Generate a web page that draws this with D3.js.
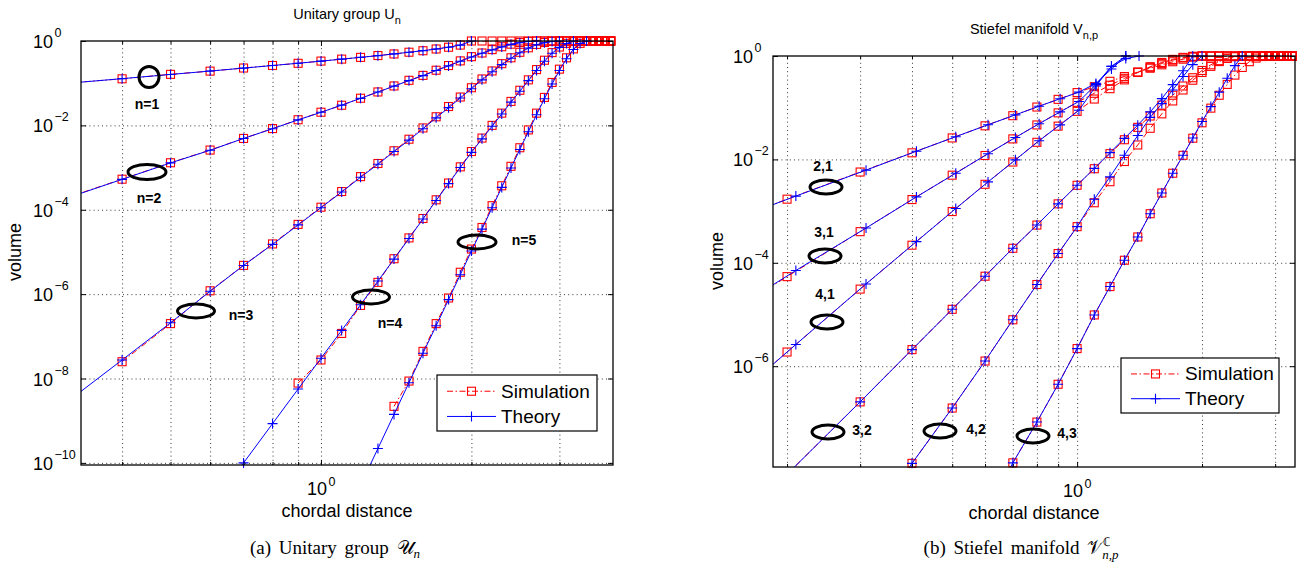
<!DOCTYPE html>
<html><head><meta charset="utf-8">
<script src="https://cdn.jsdelivr.net/npm/d3@7/dist/d3.min.js"></script>
<style>
html,body{margin:0;padding:0;background:#fff;}
svg{display:block;}
text{font-family:"Liberation Sans",Arial,Helvetica,sans-serif;fill:#000;}
.cap{font-family:"Liberation Serif","Times New Roman",serif;}
</style></head><body>
<svg id="chart" width="1302" height="570"></svg>
<script>
// ================= DATA: (a) Unitary group U_n =================
const xUnitary = [0.3,0.4,0.5,0.6,0.7,0.8,0.9,1.0,1.1,1.2,1.3,1.4,1.5,1.6,1.7,1.8,1.9,2.0,2.1,2.2,2.3,2.4,2.5,2.6,2.7,2.8,2.9,3.0,3.1,3.2,3.3,3.4,3.5,3.6,3.7,3.8];
const theoryN1 = [0.096,0.128,0.161,0.194,0.228,0.262,0.297,0.333,0.371,0.410,0.450,0.494,0.540,0.590,0.645,0.713,0.799,1.0,null,null,null,null,null,null,null,null,null,null,null,null,null,null,null,null,null,null];
const simN1    = [0.097,0.127,0.162,0.193,0.229,0.263,0.296,0.334,0.372,0.409,0.452,0.493,0.542,0.588,0.647,0.712,0.80,1,1,1,1,1,1,1,1,1,1,1,1,1,1,1,1,1,1,1];
const theoryN2 = [1.66e-4,5.25e-4,1.29e-3,2.57e-3,4.90e-3,8.32e-3,1.35e-2,2.04e-2,3.02e-2,4.37e-2,6.17e-2,8.51e-2,0.115,0.151,0.200,0.257,0.331,0.417,0.513,0.617,0.724,0.832,0.912,0.977,1.0,null,null,null,null,null,null,null,null,null,null,null];
const simN2    = [1.7e-4,5.3e-4,1.3e-3,2.6e-3,4.9e-3,8.4e-3,1.36e-2,2.05e-2,3.0e-2,4.4e-2,6.2e-2,8.6e-2,0.117,0.153,0.203,0.262,0.338,0.425,0.52,0.625,0.73,0.84,0.92,0.98,1,1,1,1,1,1,1,1,1,1,1,1];
const theoryN3 = [2.04e-9,2.75e-8,2.09e-7,1.17e-6,4.79e-6,1.51e-5,4.37e-5,1.12e-4,2.63e-4,5.89e-4,1.20e-3,2.40e-3,4.47e-3,8.32e-3,1.51e-2,2.63e-2,4.47e-2,7.41e-2,0.120,0.186,0.275,0.389,0.525,0.676,0.813,0.912,0.977,1.0,null,null,null,null,null,null,null,null];
const simN3    = [null,2.5e-8,2.0e-7,1.2e-6,4.8e-6,1.55e-5,4.5e-5,1.15e-4,2.7e-4,6.1e-4,1.25e-3,2.5e-3,4.7e-3,8.7e-3,1.6e-2,2.8e-2,4.7e-2,7.8e-2,0.126,0.195,0.29,0.40,0.54,0.69,0.83,0.92,0.98,1,1,1,1,1,1,1,1,1];
const theoryN4 = [null,null,null,8.51e-12,1.0e-10,8.51e-10,5.62e-9,3.02e-8,1.38e-7,5.62e-7,2.04e-6,6.76e-6,2.09e-5,6.03e-5,1.66e-4,4.17e-4,1.0e-3,2.29e-3,4.79e-3,9.55e-3,1.86e-2,3.55e-2,6.46e-2,0.115,0.200,0.331,0.513,0.708,0.871,1.0,null,null,null,null,null,null];
const simN4    = [null,null,null,null,null,null,7.8e-9,2.75e-8,1.17e-7,5.4e-7,1.9e-6,6.9e-6,2.15e-5,6.2e-5,1.72e-4,4.3e-4,1.04e-3,2.4e-3,5.0e-3,1.0e-2,1.95e-2,3.7e-2,6.8e-2,0.12,0.21,0.35,0.53,0.72,0.88,0.97,1,1,1,1,1,1];
const theoryN5 = [null,null,null,null,null,null,null,null,null,2.95e-11,2.19e-10,1.41e-9,7.94e-9,3.98e-8,1.78e-7,7.41e-7,2.88e-6,1.05e-5,3.47e-5,1.12e-4,3.39e-4,9.77e-4,2.69e-3,7.08e-3,1.78e-2,4.27e-2,9.55e-2,0.200,0.380,0.631,0.871,1.0,null,null,null,null];
const simN5    = [null,null,null,null,null,null,null,null,null,null,null,2.19e-9,8.7e-9,4.4e-8,2.0e-7,8.1e-7,3.3e-6,1.17e-5,3.8e-5,1.25e-4,3.7e-4,1.07e-3,2.95e-3,7.8e-3,1.95e-2,4.6e-2,0.104,0.215,0.40,0.65,0.88,0.98,1,1,1,1];

// ================= DATA: (b) Stiefel manifold V_{n,p} =================
const xStiefel   = [0.1,0.2,0.3,0.4,0.5,0.6,0.7,0.8,0.9,1.0,1.1,1.2,1.3,1.4,1.5,1.6,1.7,1.8,1.9,2.0,2.1,2.2,2.3,2.4,2.5,2.6,2.7,2.8,2.9,3.0,3.1,3.2,3.3];
const xStiefelP1 = [0.11,0.21,0.31,0.41,0.51,0.61,0.71,0.81,0.91,1.01,1.11,1.21,1.31,1.41];
const sim21    = [2.1e-4,1.7e-3,5.7e-3,1.34e-2,2.6e-2,4.46e-2,7.0e-2,0.103,0.145,0.196,0.255,0.324,0.40,0.49,0.58,0.676,0.774,0.868,0.95,1,1,1,1,1,1,1,1,1,1,1,1,1,1];
const theory21 = [2.8e-4,1.95e-3,6.2e-3,1.44e-2,2.75e-2,4.68e-2,7.25e-2,0.107,0.149,0.200,0.295,0.56,1.0,null];
const sim31    = [1.7e-6,5.4e-5,4.0e-4,1.67e-3,4.95e-3,1.19e-2,2.49e-2,4.64e-2,7.94e-2,0.127,0.190,0.272,0.370,0.483,0.605,0.72,0.83,0.92,0.98,1,1,1,1,1,1,1,1,1,1,1,1,1,1];
const theory31 = [2.75e-6,7.1e-5,4.7e-4,1.88e-3,5.4e-3,1.29e-2,2.65e-2,4.9e-2,8.3e-2,0.132,0.28,0.63,1.0,null];
const sim41    = [1.5e-8,1.88e-6,3.1e-5,2.19e-4,9.8e-4,3.3e-3,8.9e-3,2.14e-2,4.4e-2,8.5e-2,0.147,0.233,0.345,0.48,0.62,0.75,0.86,0.94,0.985,1,1,1,1,1,1,1,1,1,1,1,1,1,1];
const theory41 = [2.9e-8,2.63e-6,3.9e-5,2.57e-4,1.12e-3,3.67e-3,9.8e-3,2.3e-2,4.66e-2,8.9e-2,0.263,0.63,0.89,1.0];
const sim32    = [null,8.1e-9,2.04e-7,2.09e-6,1.26e-5,5.5e-5,1.91e-4,5.37e-4,1.38e-3,3.16e-3,6.6e-3,1.29e-2,2.4e-2,4.17e-2,6.9e-2,0.112,0.174,0.263,0.38,0.525,0.676,0.813,0.912,0.977,1,1,1,1,1,1,1,1,1];
const theory32 = [null,8.1e-9,2.04e-7,2.09e-6,1.26e-5,5.5e-5,1.91e-4,5.37e-4,1.38e-3,3.16e-3,6.7e-3,1.35e-2,2.55e-2,4.6e-2,8.3e-2,0.15,0.28,0.52,1.0,null,null,null,null,null,null,null,null,null,null,null,null,null,null];
const sim42    = [null,null,null,1.32e-8,1.55e-7,1.26e-6,7.9e-6,3.8e-5,1.51e-4,5.0e-4,1.45e-3,3.7e-3,9.1e-3,1.9e-2,4.0e-2,7.6e-2,0.135,0.22,0.34,0.48,0.63,0.78,0.90,0.97,1,1,1,1,1,1,1,1,1];
const theory42 = [null,null,4.2e-10,1.32e-8,1.55e-7,1.26e-6,7.9e-6,3.8e-5,1.51e-4,5.0e-4,1.7e-3,4.6e-3,1.2e-2,2.9e-2,6.5e-2,0.12,0.22,0.40,0.68,1.0,null,null,null,null,null,null,null,null,null,null,null,null,null];
const sim43    = [null,null,null,null,null,null,1.35e-8,8.3e-8,4.47e-7,2.19e-6,9.8e-6,3.47e-5,1.12e-4,3.16e-4,8.9e-4,2.24e-3,5.4e-3,1.2e-2,2.57e-2,5.1e-2,9.8e-2,0.174,0.282,0.427,0.60,0.776,0.912,0.977,1,1,1,1,1];
const theory43 = [null,null,null,null,null,1.35e-9,1.35e-8,8.3e-8,4.47e-7,2.19e-6,9.8e-6,3.47e-5,1.12e-4,3.16e-4,8.9e-4,2.24e-3,5.4e-3,1.2e-2,2.6e-2,5.4e-2,0.105,0.20,0.37,0.65,1.0,null,null,null,null,null,null,null,null];

// tick values / labels
const yTicksUnitary = [1e-10,1e-8,1e-6,1e-4,1e-2,1];
const yTicksStiefel = [1e-6,1e-4,1e-2,1];
const xTicksMajor = [1];
const xMinorUnitary = [0.4,0.5,0.6,0.7,0.8,0.9,2,3];
const xMinorStiefel = [0.2,0.3,0.4,0.5,0.6,0.7,0.8,0.9,2,3];
const legendLabels = ["Simulation","Theory"];
const labelsUnitary = ["n=1","n=2","n=3","n=4","n=5"];
const labelsStiefel = ["2,1","3,1","4,1","3,2","4,2","4,3"];

// ================= DRAWING =================
const svg = d3.select("#chart");
svg.append("rect").attr("width",1302).attr("height",570).attr("fill","#fff");
const defs = svg.append("defs");
const RED = "#ff0000", BLUE = "#0000ff";
const DASHDOT = "6,2.5,1.5,2.5";

function drawPanel(p){
  const x = d3.scaleLog().domain(p.xDomain).range([p.left,p.right]);
  const y = d3.scaleLog().domain(p.yDomain).range([p.bottom,p.top]);
  const g = svg.append("g");
  defs.append("clipPath").attr("id",p.id).append("rect")
    .attr("x",p.left).attr("y",p.top).attr("width",p.right-p.left).attr("height",p.bottom-p.top);

  // grid
  const gridStyle = s => { s.select(".domain").remove();
    s.selectAll(".tick line").attr("stroke","#222").attr("stroke-width",0.9).attr("stroke-dasharray","1,3.2"); };
  g.append("g").attr("transform",`translate(0,${p.bottom})`)
    .call(d3.axisBottom(x).tickValues(p.xMinor.concat(xTicksMajor)).tickSize(-(p.bottom-p.top)).tickFormat(""))
    .call(gridStyle);
  g.append("g").attr("transform",`translate(${p.left},0)`)
    .call(d3.axisLeft(y).tickValues(p.yTicks.filter(v=>v<1 && v>p.yDomain[0]*1.05)).tickSize(-(p.right-p.left)).tickFormat(""))
    .call(gridStyle);

  const inX = v => v >= p.xDomain[0]*0.999 && v <= p.xDomain[1]*1.001;
  const inY = v => v >= p.yDomain[0]*0.999 && v <= p.yDomain[1]*1.001;
  const line = d3.line().defined(d=>d[1]!=null).x(d=>x(d[0])).y(d=>y(d[1]));

  // simulation (red dash-dot, squares)
  p.sims.forEach(s=>{
    const pts = s.xs.map((v,i)=>[v,s.ys[i]]);
    g.append("path").attr("d",line(pts)).attr("clip-path",`url(#${p.id})`)
      .attr("fill","none").attr("stroke",RED).attr("stroke-width",1).attr("stroke-dasharray",DASHDOT);
    g.append("g").selectAll("rect").data(pts.filter(d=>d[1]!=null && inX(d[0]) && inY(d[1])))
      .join("rect").attr("x",d=>x(d[0])-4).attr("y",d=>y(d[1])-4).attr("width",8).attr("height",8)
      .attr("fill","none").attr("stroke",RED).attr("stroke-width",1.1);
  });
  // theory (blue solid, plus)
  p.theories.forEach(s=>{
    const pts = s.xs.map((v,i)=>[v,s.ys[i]]);
    g.append("path").attr("d",line(pts)).attr("clip-path",`url(#${p.id})`)
      .attr("fill","none").attr("stroke",BLUE).attr("stroke-width",1);
    g.append("g").selectAll("path").data(pts.filter(d=>d[1]!=null && inX(d[0]) && inY(d[1])))
      .join("path").attr("d",d=>`M${x(d[0])-5},${y(d[1])}H${x(d[0])+5}M${x(d[0])},${y(d[1])-5}V${y(d[1])+5}`)
      .attr("stroke",BLUE).attr("stroke-width",1.1);
  });

  // border
  g.append("rect").attr("x",p.left).attr("y",p.top).attr("width",p.right-p.left).attr("height",p.bottom-p.top)
    .attr("fill","none").attr("stroke","#000").attr("stroke-width",1.3);
  // ticks (inward)
  const tk = s => { s.select(".domain").remove(); s.selectAll(".tick line").attr("stroke","#000"); };
  g.append("g").attr("transform",`translate(${p.left},0)`).call(d3.axisLeft(y).tickValues(p.yTicks).tickSize(-5).tickFormat("")).call(tk);
  g.append("g").attr("transform",`translate(${p.right},0)`).call(d3.axisRight(y).tickValues(p.yTicks).tickSize(-5).tickFormat("")).call(tk);
  g.append("g").attr("transform",`translate(0,${p.bottom})`).call(d3.axisBottom(x).tickValues(xTicksMajor).tickSize(-5).tickFormat("")).call(tk);
  g.append("g").attr("transform",`translate(0,${p.top})`).call(d3.axisTop(x).tickValues(xTicksMajor).tickSize(-5).tickFormat("")).call(tk);
  g.append("g").attr("transform",`translate(0,${p.bottom})`).call(d3.axisBottom(x).tickValues(p.xMinor).tickSize(-3).tickFormat("")).call(tk);
  g.append("g").attr("transform",`translate(0,${p.top})`).call(d3.axisTop(x).tickValues(p.xMinor).tickSize(-3).tickFormat("")).call(tk);

  // y tick labels 10^k
  p.yTicks.forEach(v=>{
    const e = Math.round(Math.log10(v));
    const yy = y(v);
    g.append("text").attr("x",p.yLabX).attr("y",yy+7).attr("text-anchor","end").attr("font-size",18).text("10");
    g.append("text").attr("x",p.yLabX+1.5).attr("y",yy-4).attr("font-size",12.5).text(e===0?"0":"\u2212"+(-e));
  });
  // x tick label
  xTicksMajor.forEach(v=>{
    g.append("text").attr("x",x(v)+6).attr("y",p.bottom+30).attr("text-anchor","end").attr("font-size",18).text("10");
    g.append("text").attr("x",x(v)+7.5).attr("y",p.bottom+21).attr("font-size",12.5).text("0");
  });
  // axis labels
  g.append("text").attr("x",(p.left+p.right)/2).attr("y",p.bottom+52).attr("text-anchor","middle").attr("font-size",18).text("chordal distance");
  g.append("text").attr("transform",`translate(${p.volX},${p.volY}) rotate(-90)`).attr("text-anchor","middle").attr("font-size",18).text("volume");
  // title
  const t = g.append("text").attr("x",(p.left+p.right)/2).attr("y",p.top-22).attr("text-anchor","middle").attr("font-size",14.5);
  t.append("tspan").text(p.title);
  t.append("tspan").attr("dy",5).attr("font-size",11).text(p.titleSub);

  // annotations (ellipses + labels)
  p.notes.forEach((n,i)=>{
    g.append("ellipse").attr("cx",n.cx).attr("cy",n.cy).attr("rx",n.rx).attr("ry",n.ry)
      .attr("fill","none").attr("stroke","#000").attr("stroke-width",3);
    g.append("text").attr("x",n.tx).attr("y",n.ty).attr("text-anchor","middle").attr("font-size",14).attr("font-weight","bold").text(p.noteLabels[i]);
  });

  // legend
  const L = p.legend;
  g.append("rect").attr("x",L.x).attr("y",L.y).attr("width",L.w).attr("height",L.h).attr("fill","#fff").attr("stroke","#000").attr("stroke-width",1.2);
  const r1 = L.y + L.h*0.29, r2 = L.y + L.h*0.74;
  g.append("line").attr("x1",L.x+10).attr("x2",L.x+59).attr("y1",r1).attr("y2",r1).attr("stroke",RED).attr("stroke-dasharray",DASHDOT);
  g.append("rect").attr("x",L.x+34.5-4).attr("y",r1-4).attr("width",8).attr("height",8).attr("fill","none").attr("stroke",RED).attr("stroke-width",1.1);
  g.append("line").attr("x1",L.x+10).attr("x2",L.x+59).attr("y1",r2).attr("y2",r2).attr("stroke",BLUE);
  g.append("path").attr("d",`M${L.x+29.5},${r2}H${L.x+39.5}M${L.x+34.5},${r2-5}V${r2+5}`).attr("stroke",BLUE).attr("stroke-width",1.1);
  g.append("text").attr("x",L.x+64).attr("y",r1+6.5).attr("font-size",19).text(legendLabels[0]);
  g.append("text").attr("x",L.x+64).attr("y",r2+6.5).attr("font-size",19).text(legendLabels[1]);

  // caption
  const c = svg.append("text").attr("class","cap").attr("x",p.capX).attr("y",554).attr("text-anchor","middle").attr("font-size",19).attr("word-spacing",3);
  p.caption(c);
}

const S = (xs,ys)=>({xs,ys});

drawPanel({
  id:"clipA", left:81, right:613, top:41, bottom:465,
  xDomain:[0.331,3.84], yDomain:[8.91e-11,1],
  sims:[S(xUnitary,simN1),S(xUnitary,simN2),S(xUnitary,simN3),S(xUnitary,simN4),S(xUnitary,simN5)],
  theories:[S(xUnitary,theoryN1),S(xUnitary,theoryN2),S(xUnitary,theoryN3),S(xUnitary,theoryN4),S(xUnitary,theoryN5)],
  yTicks:yTicksUnitary, xMinor:xMinorUnitary, yLabX:53,
  volX:21, volY:252,
  title:"Unitary group U", titleSub:"n",
  noteLabels:labelsUnitary,
  notes:[
    {cx:149,cy:77,rx:10,ry:10.5,tx:147,ty:109},
    {cx:147,cy:172,rx:19,ry:7.5,tx:149,ty:203},
    {cx:196,cy:311,rx:18.5,ry:7,tx:241,ty:320},
    {cx:371,cy:297,rx:18.5,ry:7,tx:390,ty:328},
    {cx:477,cy:242,rx:19,ry:7,tx:524,ty:245}
  ],
  legend:{x:437,y:375,w:160,h:56},
  capX:335,
  caption:c=>{ c.append("tspan").text("(a) Unitary group ");
    c.append("tspan").text("\u{1D4B0}");
    c.append("tspan").attr("font-style","italic").attr("font-size",13).attr("dy",4).text("n"); }
});

drawPanel({
  id:"clipB", left:773, right:1295, top:56, bottom:467,
  xDomain:[0.185,3.35], yDomain:[1.122e-8,1],
  sims:[S(xStiefel,sim21),S(xStiefel,sim31),S(xStiefel,sim41),S(xStiefel,sim32),S(xStiefel,sim42),S(xStiefel,sim43)],
  theories:[S(xStiefelP1,theory21),S(xStiefelP1,theory31),S(xStiefelP1,theory41),S(xStiefel,theory32),S(xStiefel,theory42),S(xStiefel,theory43)],
  yTicks:yTicksStiefel, xMinor:xMinorStiefel, yLabX:753,
  volX:723, volY:261,
  title:"Stiefel manifold V", titleSub:"n,p",
  noteLabels:labelsStiefel,
  notes:[
    {cx:826,cy:187,rx:16,ry:7,tx:823,ty:171},
    {cx:825,cy:256,rx:16,ry:7,tx:824,ty:237},
    {cx:827,cy:322,rx:16,ry:7,tx:825,ty:299},
    {cx:828,cy:432,rx:16,ry:7,tx:862,ty:435},
    {cx:940,cy:431,rx:16,ry:7,tx:976,ty:434},
    {cx:1033,cy:436,rx:16,ry:7,tx:1067,ty:438}
  ],
  legend:{x:1121,y:358,w:158,h:55},
  capX:1021,
  caption:c=>{ c.append("tspan").text("(b) Stiefel manifold ");
    c.append("tspan").text("\u{1D4B1}");
    c.append("tspan").attr("font-size",12).attr("dy",-8).text("\u2102");
    c.append("tspan").attr("font-style","italic").attr("font-size",13).attr("dx",-9).attr("dy",13).text("n,p"); }
});
</script>
</body></html>
